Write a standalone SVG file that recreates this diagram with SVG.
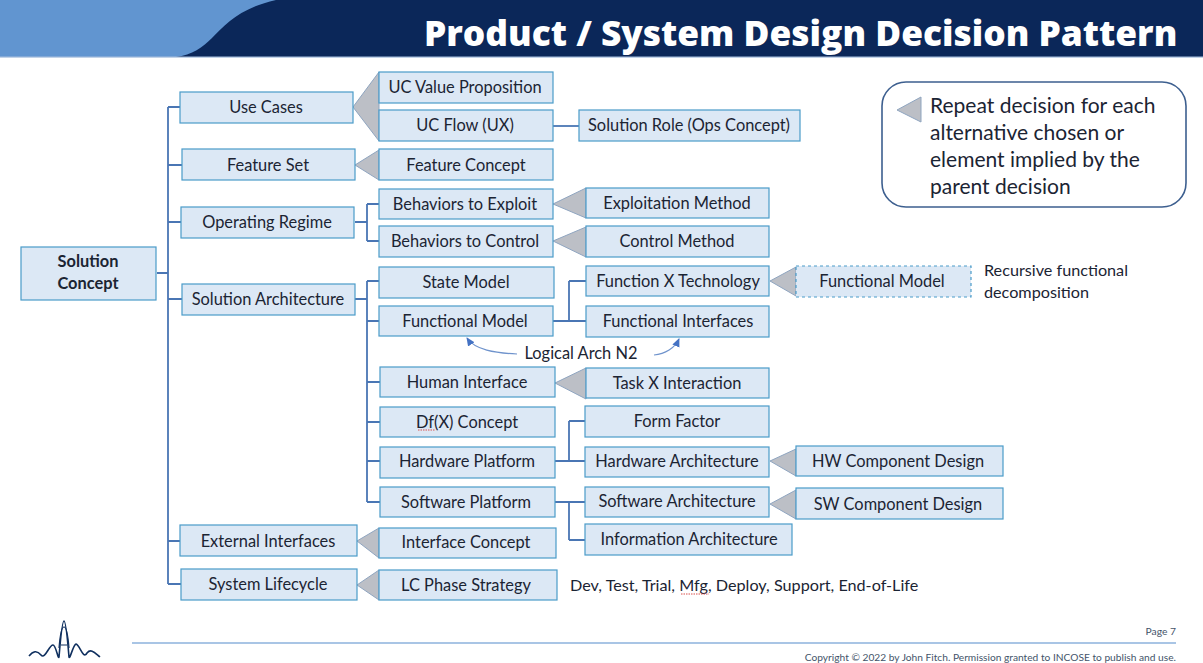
<svg xmlns="http://www.w3.org/2000/svg" width="1203" height="663" viewBox="0 0 1203 663">
<defs>
<marker id="ah" viewBox="0 0 10 10" refX="8" refY="5" markerWidth="8" markerHeight="8" orient="auto-start-reverse"><path d="M0 1L9 5L0 9Z" fill="#4472c4"/></marker>
</defs>
<style>
text{font-family:"Lato","Open Sans","Liberation Sans",sans-serif;fill:#1b2433;font-size:16.2px}
.b{fill:#dce8f5;stroke:#4a9bc9;stroke-width:1.2}
.d{fill:#dce8f5;stroke:#4a9bc9;stroke-width:1.2;stroke-dasharray:3 3}
.t{text-anchor:middle;font-size:16.4px;transform:translateY(-.5px)}
.tri{fill:#bcbfc6;stroke:#8fa5c0;stroke-width:1}
.c{fill:none;stroke:#4a76b4;stroke-width:1.8}
.s{fill:none;stroke:#d9534f;stroke-width:1;stroke-dasharray:1.5 1}
</style>
<rect width="1203" height="663" fill="#fff"/>
<g id="header">
<rect width="1203" height="57" fill="#0b2759"/>
<path d="M0 0H276C240 8 226 24 212 38C203 47 192 55 176 57H0Z" fill="#6195d0"/>
<rect y="56.5" width="1203" height="1.2" fill="#a9c0de"/>
<text x="424" y="46" style="font-family:'Open Sans','Liberation Sans',sans-serif;font-weight:800;font-size:35.3px;fill:#fff">Product / System Design Decision Pattern</text>
</g>
<g id="connectors">
<path class="c" d="M157 273H168M168 107V584M168 107H180M168 165H182M168 222H181M168 299H182M168 541H180M168 584H181"/>
<path class="c" d="M355 222H367M367 204V241M367 204H379M367 241H379"/>
<path class="c" d="M355 299H367M367 281V502M367 281H379M367 321H379M367 382H380M367 422H380M367 461H380M367 502H380"/>
<path class="c" d="M553 126H579"/>
<path class="c" d="M553 321H586M569 281V321M569 281H586"/>
<path class="c" d="M555 461H585M569 421V461M569 421H585"/>
<path class="c" d="M555 502H585M569 502V540M569 540H585"/>
<path d="M517 354C495 353 475 350 467 338" fill="none" stroke="#6f93cc" stroke-width="1.2" marker-end="url(#ah)"/>
<path d="M654 355C665 354 675 348 679 339" fill="none" stroke="#6f93cc" stroke-width="1.2" marker-end="url(#ah)"/>
</g>
<g id="triangles">
<polygon class="tri" points="353,107 379,72 379,141"/>
<polygon class="tri" points="355,165 379,150 379,180"/>
<polygon class="tri" points="553,204 586,188 586,218"/>
<polygon class="tri" points="553,241 586,227 586,257"/>
<polygon class="tri" points="770,281 796,267 796,296"/>
<polygon class="tri" points="555,383 586,368 586,399"/>
<polygon class="tri" points="770,461 796,449 796,476"/>
<polygon class="tri" points="770,504 796,490 796,519"/>
<polygon class="tri" points="357,541 379,528 379,558"/>
<polygon class="tri" points="357,585 379,570 379,600"/>
</g>
<g id="n-solution"><rect class="b" x="21" y="247" width="135" height="53"/><text class="t" x="88" y="267" style="font-weight:700">Solution</text><text class="t" x="88" y="289" style="font-weight:700">Concept</text></g>
<g id="n-usecases"><rect class="b" x="180" y="92" width="173" height="31"/><text class="t" x="266" y="113">Use Cases</text></g>
<g id="n-ucvalue"><rect class="b" x="379" y="72" width="174" height="31"/><text class="t" x="465" y="93">UC Value Proposition</text></g>
<g id="n-ucflow"><rect class="b" x="379" y="110" width="174" height="31"/><text class="t" x="465" y="131">UC Flow (UX)</text></g>
<g id="n-role"><rect class="b" x="579" y="110" width="221" height="31"/><text class="t" x="689" y="131">Solution Role (Ops Concept)</text></g>
<g id="n-featureset"><rect class="b" x="182" y="149" width="173" height="31"/><text class="t" x="268" y="171">Feature Set</text></g>
<g id="n-featureconcept"><rect class="b" x="379" y="149" width="174" height="31"/><text class="t" x="466" y="171">Feature Concept</text></g>
<g id="n-regime"><rect class="b" x="181" y="207" width="173" height="31"/><text class="t" x="267" y="228">Operating Regime</text></g>
<g id="n-exploit"><rect class="b" x="379" y="189" width="174" height="30"/><text class="t" x="465" y="210">Behaviors to Exploit</text></g>
<g id="n-control"><rect class="b" x="379" y="226" width="174" height="31"/><text class="t" x="465" y="247">Behaviors to Control</text></g>
<g id="n-expmethod"><rect class="b" x="586" y="188" width="183" height="30"/><text class="t" x="677" y="209">Exploitation Method</text></g>
<g id="n-ctlmethod"><rect class="b" x="586" y="226" width="183" height="31"/><text class="t" x="677" y="247">Control Method</text></g>
<g id="n-solarch"><rect class="b" x="182" y="284" width="173" height="31"/><text class="t" x="268" y="305">Solution Architecture</text></g>
<g id="n-state"><rect class="b" x="379" y="267" width="175" height="31"/><text class="t" x="466" y="288">State Model</text></g>
<g id="n-funcmodel"><rect class="b" x="379" y="306" width="174" height="30"/><text class="t" x="465" y="327">Functional Model</text></g>
<g id="n-fxt"><rect class="b" x="586" y="266" width="183" height="30"/><text class="t" x="678" y="287">Function X Technology</text></g>
<g id="n-fi"><rect class="b" x="586" y="306" width="183" height="31"/><text class="t" x="678" y="327">Functional Interfaces</text></g>
<g id="n-fm2"><rect class="d" x="796" y="266" width="175" height="31"/><text class="t" x="882" y="287">Functional Model</text></g>
<g id="n-human"><rect class="b" x="380" y="367" width="175" height="30"/><text class="t" x="467" y="388">Human Interface</text></g>
<g id="n-task"><rect class="b" x="586" y="368" width="183" height="30"/><text class="t" x="677" y="389">Task X Interaction</text></g>
<g id="n-dfx"><rect class="b" x="380" y="407" width="175" height="30"/><text class="t" x="467" y="428">Df(X) Concept</text><path class="s" d="M418 430H435"/></g>
<g id="n-hwp"><rect class="b" x="380" y="447" width="175" height="31"/><text class="t" x="467" y="467">Hardware Platform</text></g>
<g id="n-swp"><rect class="b" x="380" y="487" width="175" height="30"/><text class="t" x="466" y="508">Software Platform</text></g>
<g id="n-form"><rect class="b" x="585" y="406" width="184" height="31"/><text class="t" x="677" y="427">Form Factor</text></g>
<g id="n-hwa"><rect class="b" x="585" y="447" width="184" height="30"/><text class="t" x="677" y="467">Hardware Architecture</text></g>
<g id="n-swa"><rect class="b" x="585" y="487" width="184" height="30"/><text class="t" x="677" y="507">Software Architecture</text></g>
<g id="n-info"><rect class="b" x="585" y="524" width="207" height="31"/><text class="t" x="689" y="545">Information Architecture</text></g>
<g id="n-hwc"><rect class="b" x="796" y="446" width="207" height="30"/><text class="t" x="898" y="467">HW Component Design</text></g>
<g id="n-swc"><rect class="b" x="796" y="488" width="207" height="31"/><text class="t" x="898" y="510">SW Component Design</text></g>
<g id="n-ext"><rect class="b" x="180" y="525" width="177" height="31"/><text class="t" x="268" y="547">External Interfaces</text></g>
<g id="n-ifc"><rect class="b" x="379" y="528" width="177" height="30"/><text class="t" x="466" y="548">Interface Concept</text></g>
<g id="n-life"><rect class="b" x="181" y="569" width="176" height="31"/><text class="t" x="268" y="590">System Lifecycle</text></g>
<g id="n-lc"><rect class="b" x="379" y="570" width="178" height="30"/><text class="t" x="466" y="591">LC Phase Strategy</text></g>
<g id="labels">
<text class="t" x="581" y="359">Logical Arch N2</text>
<text x="570" y="591">Dev, Test, Trial, Mfg, Deploy, Support, End-of-Life</text><path class="s" d="M681 594H709"/>
<text x="984" y="276">Recursive functional</text>
<text x="984" y="298">decomposition</text>
</g>
<g id="legend">
<rect x="882" y="82" width="304" height="125" rx="24" fill="#fff" stroke="#3d5f8f" stroke-width="1.6"/>
<polygon class="tri" points="897,110 921,97 921,122"/>
<text x="930" y="113" style="font-size:21px">Repeat decision for each</text>
<text x="930" y="140" style="font-size:21px">alternative chosen or</text>
<text x="930" y="167" style="font-size:21px">element implied by the</text>
<text x="930" y="194" style="font-size:21px">parent decision</text>
</g>
<g id="footer">
<path d="M132 643H1176" stroke="#8db2dc" stroke-width="1.3"/>
<text x="1176" y="635" text-anchor="end" style="font-size:10.3px;fill:#44546a">Page 7</text>
<text x="1176" y="661" text-anchor="end" style="font-size:10.2px;fill:#44546a">Copyright © 2022 by John Fitch. Permission granted to INCOSE to publish and use.</text>
<path d="M29 656C33 651 37 650 41 655C45 660 49 645 53 645C56 645 58 660 59 657C60 645 62 621 64 621C66 621 68 645 69 657C70 660 73 645 76 644C80 645 83 660 87 653C91 648 95 653 100 657" fill="none" stroke="#10305f" stroke-width="1.6"/>
<path d="M59 648C60 635 62 627 64 627C66 627 68 635 69 648M61 645H67" fill="none" stroke="#10305f" stroke-width="1.2"/>
</g>
</svg>
